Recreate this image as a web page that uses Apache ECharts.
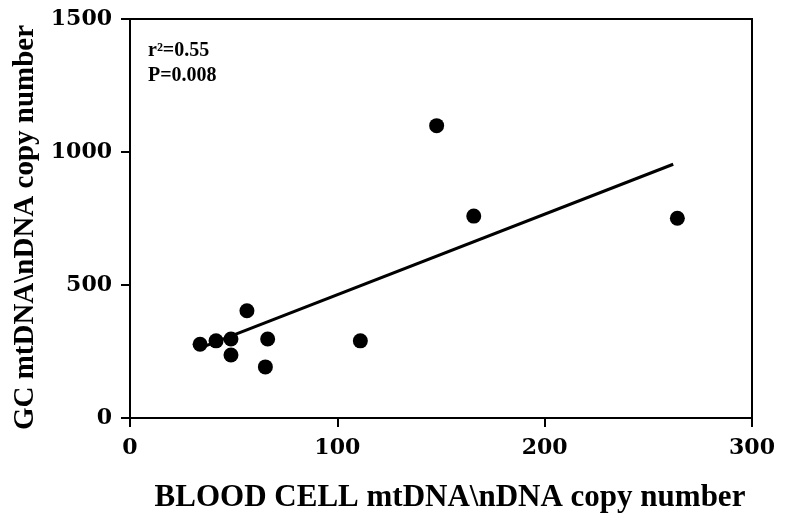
<!DOCTYPE html>
<html>
<head>
<meta charset="utf-8">
<script src="https://cdn.jsdelivr.net/npm/echarts@6/dist/echarts.min.js"></script>
<style>html,body{margin:0;padding:0;background:#fff}#c{width:786px;height:528px}</style>
</head>
<body>
<div id="c"></div>
<script>
var bloodCell = [33.8, 41.5, 48.7, 48.7, 56.4, 66.4, 65.3, 111.1, 147.9, 165.8, 264];
var gcCopies = [277, 290, 297, 237, 403, 297, 192, 290, 1099, 759, 751];
var fitX = [34, 262];
var fitY = [264, 954];
var xTicks = [0, 100, 200, 300];
var yTicks = [0, 500, 1000, 1500];

var pts = bloodCell.map(function (x, i) { return [x, gcCopies[i]]; });
var fit = fitX.map(function (x, i) { return [x, fitY[i]]; });

var chart = echarts.init(document.getElementById('c'));
var tickFont = { fontFamily: 'DejaVu Serif', fontWeight: 'bold', fontSize: 22, color: '#000' };
var fmt = function (v) { return String(v); };
chart.setOption({
  animation: false,
  backgroundColor: '#fff',
  grid: { left: 130, right: 34, top: 19, bottom: 110, show: true, borderColor: '#000', borderWidth: 2 },
  xAxis: {
    type: 'value', min: xTicks[0], max: xTicks[xTicks.length - 1], interval: 100,
    splitLine: { show: false },
    axisLine: { lineStyle: { color: '#000', width: 2 } },
    axisTick: { inside: false, length: 9, lineStyle: { color: '#000', width: 2 } },
    axisLabel: Object.assign({ margin: 19, formatter: fmt }, tickFont),
    name: 'BLOOD CELL mtDNA\\nDNA copy number',
    nameLocation: 'middle', nameGap: 64,
    nameTextStyle: { fontFamily: 'Liberation Serif', fontWeight: 'bold', fontSize: 31, color: '#000', padding: [0, 0, 0, 18] }
  },
  yAxis: {
    type: 'value', min: yTicks[0], max: yTicks[yTicks.length - 1], interval: 500,
    splitLine: { show: false },
    axisLine: { lineStyle: { color: '#000', width: 2 } },
    axisTick: { inside: false, length: 9, lineStyle: { color: '#000', width: 2 } },
    axisLabel: Object.assign({ margin: 18, formatter: fmt }, tickFont),
    name: 'GC mtDNA\\nDNA copy number',
    nameLocation: 'middle', nameGap: 84,
    nameTextStyle: { fontFamily: 'Liberation Serif', fontWeight: 'bold', fontSize: 29, color: '#000', padding: [0, 18, 0, 0] }
  },
  graphic: [{
    type: 'text', left: 148, top: 38,
    style: { text: 'r²=0.55\nP=0.008', fontFamily: 'Liberation Serif', fontWeight: 'bold', fontSize: 20, lineHeight: 25, fill: '#000' }
  }],
  series: [
    { type: 'line', data: fit, showSymbol: false, symbol: 'none', lineStyle: { color: '#000', width: 3 }, z: 2 },
    { type: 'scatter', data: pts, symbol: 'circle', symbolSize: 15, itemStyle: { color: '#000', opacity: 1 }, z: 3 }
  ]
});
</script>
</body>
</html>
